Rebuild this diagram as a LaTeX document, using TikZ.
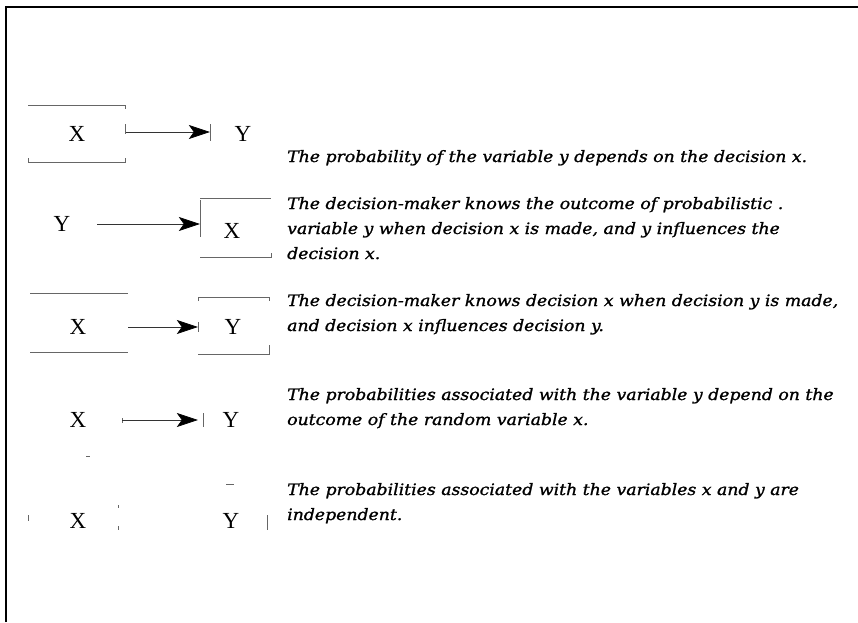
\documentclass[tikz,border=0pt]{standalone}
\usepackage{fontspec}
\setmainfont{Liberation Serif}
\newfontfamily\descfont{DejaVu Serif}[ItalicFeatures={FakeBold=1.2,FakeStretch=1.10}]
\usetikzlibrary{arrows.meta}
\begin{document}
\begin{tikzpicture}[x=1pt,y=-1pt,
  letter/.style={font=\fontsize{23}{23}\selectfont, inner sep=0pt, minimum height=20pt},
  thin/.style={draw=black!60, line width=0.6pt},
  arr/.style={draw=black!80, line width=0.6pt, -{Stealth[length=21pt,width=14pt,inset=5pt,color=black,fill=black]}},
  desc/.style={anchor=base west, inner sep=0pt, font=\descfont\itshape\fontsize{15.7}{15.7}\selectfont}]
\useasboundingbox (0,0) rectangle (858,622);
% frame
\draw[line width=2.8pt] (6,622) -- (6,7) -- (858,7);
% row 1
\node[letter, minimum width=97pt] (x1) at (77,134) {X};
\node[letter, minimum width=66pt] (y1) at (243,134) {Y};
\draw[thin] (28,105) -- (125,105) -- (125,109);
\draw[thin] (28,158) -- (28,162) -- (125,162) -- (125,158);
\draw[thin] (125,124) -- (125,134);
\draw[thin] (210,124) -- (210,141);
\draw[arr] (x1.east |- 0,132) -- (y1.west |- 0,132);
% row 2
\node[letter, minimum width=70pt] (y2) at (62,224) {Y};
\node[letter, minimum width=64pt] (x2) at (232,231) {X};
\draw[thin] (200,198) -- (271,198);
\draw[thin] (200,200) -- (200,237);
\draw[thin] (200,257) -- (271,257) -- (271,253);
\draw[arr] (y2.east) -- (x2.west |- y2.east);
% row 3
\node[letter, minimum width=100pt] (x3) at (78,327) {X};
\node[letter, minimum width=70pt] (y3) at (233,327) {Y};
\draw[thin] (30,293) -- (128,293);
\draw[thin] (30,352) -- (128,352);
\draw[thin] (198,301) -- (198,297) -- (269,297) -- (269,301);
\draw[thin] (198,354) -- (269,354) -- (269,345);
\draw[thin] (198,322) -- (198,332);
\draw[arr] (x3.east) -- (y3.west);
% row 4
\node[letter, minimum width=88pt] (x4) at (78,420) {X};
\node[letter, minimum width=66pt] (y4) at (231,420) {Y};
\draw[thin] (122,418) -- (122,423);
\draw[thin] (203,413) -- (203,427);
\draw[arr] (x4.east) -- (y4.west);
\draw[thin] (86,456) -- (90,456);
\draw[thin] (226,484) -- (234,484);
% row 5
\node[letter] (x5) at (78,521) {X};
\node[letter] (y5) at (231,521) {Y};
\draw[thin] (28,515) -- (28,521);
\draw[thin] (118,505) -- (118,508);
\draw[thin] (118,526) -- (118,530);
\draw[thin] (267,515) -- (267,530);
% descriptions
\node[desc] (t1) at (287,162) {The probability of the variable y depends on the decision x.};
\node[desc] (t2a) at (287,209) {The decision-maker knows the outcome of probabilistic .};
\node[desc] (t2b) at (287,234) {variable y when decision x is made, and y influences the};
\node[desc] (t2c) at (287,259) {decision x.};
\node[desc] (t3a) at (287,306) {The decision-maker knows decision x when decision y is made,};
\node[desc] (t3b) at (287,331) {and decision x influences decision y.};
\node[desc] (t4a) at (287,400) {The probabilities associated with the variable y depend on the};
\node[desc] (t4b) at (287,425) {outcome of the random variable x.};
\node[desc] (t5a) at (287,495) {The probabilities associated with the variables x and y are};
\node[desc] (t5b) at (287,520) {independent.};
\end{tikzpicture}
\end{document}
